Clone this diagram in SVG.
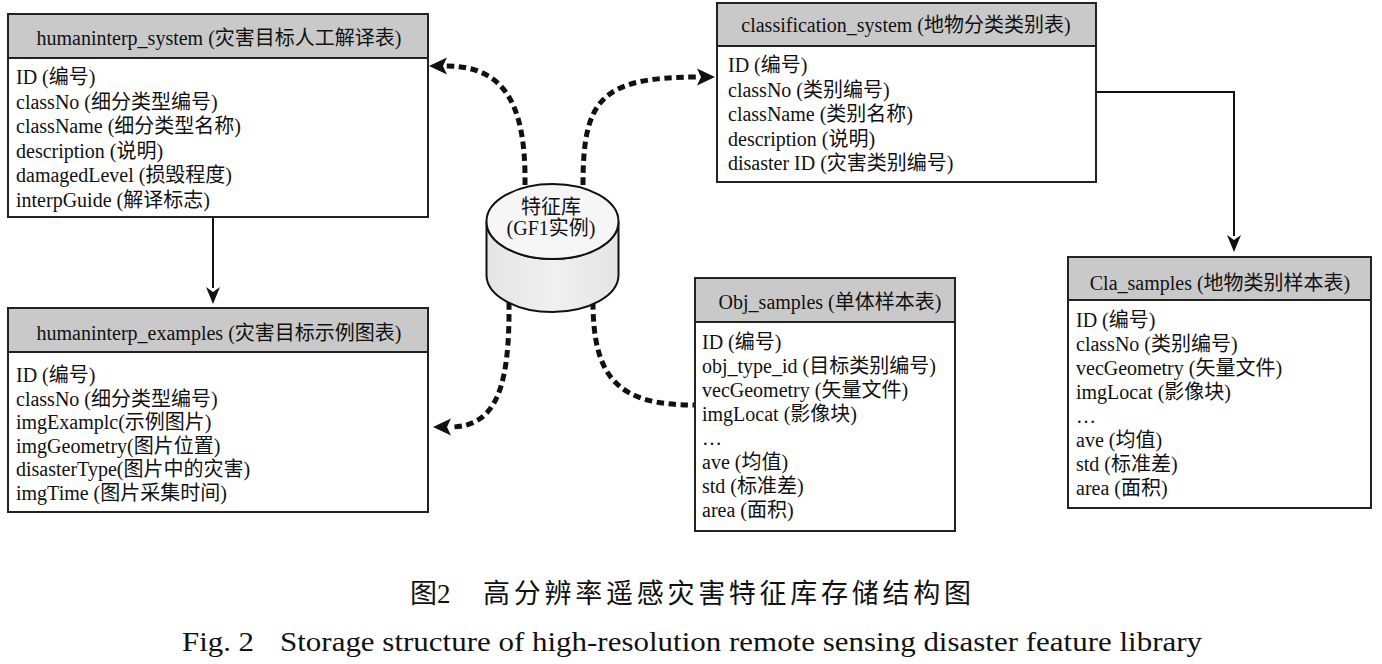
<svg xmlns="http://www.w3.org/2000/svg" width="1382" height="664" viewBox="0 0 1382 664">
<style>
text{font-family:"Liberation Serif","Noto Sans CJK SC",serif;fill:#111;}
.t{font-size:20px;}
.ttl{font-size:20px;text-anchor:middle;}
.box{fill:#fff;stroke:#222;stroke-width:2;}
.hdr{fill:#c9c9c9;stroke:#222;stroke-width:2;}
.solid{fill:none;stroke:#111;stroke-width:2;}
.dash{fill:none;stroke:#111;stroke-width:5;stroke-dasharray:7.5 4.5;}
</style>
<defs>
<marker id="sah" markerUnits="userSpaceOnUse" orient="auto" overflow="visible" refX="0" refY="0" markerWidth="1" markerHeight="1">
<path d="M16,0 L-1,-7 L4,0 L-1,7 Z" fill="#111"/>
</marker>
<marker id="dah" markerUnits="userSpaceOnUse" orient="auto" overflow="visible" refX="0" refY="0" markerWidth="1" markerHeight="1">
<path d="M17,0 L-1,-8.5 L3,0 L-1,8.5 Z" fill="#111"/>
</marker>
<linearGradient id="cyl" x1="0" y1="0" x2="1" y2="0">
<stop offset="0" stop-color="#e4e4e4"/>
<stop offset="0.5" stop-color="#f0f0f0"/>
<stop offset="1" stop-color="#e4e4e4"/>
</linearGradient>
</defs>

<g id="connectors">
<path class="solid" d="M213,217 V288" marker-end="url(#sah)"/>
<path class="solid" d="M1096,92 H1234 V236" marker-end="url(#sah)"/>
<path class="dash" d="M525,185 C526,105 505,66 446,66" marker-end="url(#dah)"/>
<path class="dash" d="M583,185 C583,100 600,77 698,77" marker-end="url(#dah)"/>
<path class="dash" d="M509,302 C510,390 495,427 450,427" marker-end="url(#dah)"/>
<path class="dash" d="M593,302 C593,380 620,405 694,405"/>
</g>

<g id="humaninterp_system">
<rect class="box" x="8" y="14" width="420" height="203"/>
<rect class="hdr" x="8" y="14" width="420" height="44"/>
<text class="ttl" x="219" y="45">humaninterp_system (灾害目标人工解译表)</text>
<text class="t" x="16" y="84">ID (编号)</text>
<text class="t" x="16" y="108.5">classNo (细分类型编号)</text>
<text class="t" x="16" y="133">className (细分类型名称)</text>
<text class="t" x="16" y="157.5">description (说明)</text>
<text class="t" x="16" y="182">damagedLevel (损毁程度)</text>
<text class="t" x="16" y="206.5">interpGuide (解译标志)</text>
</g>

<g id="humaninterp_examples">
<rect class="box" x="8" y="308" width="420" height="204"/>
<rect class="hdr" x="8" y="308" width="420" height="44"/>
<text class="ttl" x="219" y="340">humaninterp_examples (灾害目标示例图表)</text>
<text class="t" x="16" y="382">ID (编号)</text>
<text class="t" x="16" y="405.5">classNo (细分类型编号)</text>
<text class="t" x="16" y="429">imgExamplc(示例图片)</text>
<text class="t" x="16" y="452.5">imgGeometry(图片位置)</text>
<text class="t" x="16" y="476">disasterType(图片中的灾害)</text>
<text class="t" x="16" y="500">imgTime (图片采集时间)</text>
</g>

<g id="feature_db">
<path d="M486.5,221.5 L486.5,275 A66,37 0 0 0 618.5,275 L618.5,221.5 A66,37.5 0 0 1 486.5,221.5 Z" fill="url(#cyl)" stroke="#111" stroke-width="2"/>
<ellipse cx="552.5" cy="221.5" rx="66" ry="37.5" fill="#f6f6f6" stroke="#111" stroke-width="2"/>
<text class="ttl" x="551" y="214">特征库</text>
<text class="ttl" x="551" y="235">(GF1实例)</text>
</g>

<g id="classification_system">
<rect class="box" x="717" y="3" width="379" height="179"/>
<rect class="hdr" x="717" y="3" width="379" height="43"/>
<text class="ttl" x="906" y="32">classification_system (地物分类类别表)</text>
<text class="t" x="728" y="72">ID (编号)</text>
<text class="t" x="728" y="96.5">classNo (类别编号)</text>
<text class="t" x="728" y="121">className (类别名称)</text>
<text class="t" x="728" y="145.5">description (说明)</text>
<text class="t" x="728" y="170">disaster ID (灾害类别编号)</text>
</g>

<g id="Obj_samples">
<rect class="box" x="695" y="278" width="260" height="253"/>
<rect class="hdr" x="695" y="278" width="260" height="44"/>
<text class="ttl" x="830" y="309">Obj_samples (单体样本表)</text>
<text class="t" x="702" y="349">ID (编号)</text>
<text class="t" x="702" y="373">obj_type_id (目标类别编号)</text>
<text class="t" x="702" y="397">vecGeometry (矢量文件)</text>
<text class="t" x="702" y="421">imgLocat (影像块)</text>
<text class="t" x="702" y="445">…</text>
<text class="t" x="702" y="469">ave (均值)</text>
<text class="t" x="702" y="493">std (标准差)</text>
<text class="t" x="702" y="517">area (面积)</text>
</g>

<g id="Cla_samples">
<rect class="box" x="1068" y="257" width="303" height="251"/>
<rect class="hdr" x="1068" y="257" width="303" height="43"/>
<text class="ttl" x="1220" y="290">Cla_samples (地物类别样本表)</text>
<text class="t" x="1076" y="327">ID (编号)</text>
<text class="t" x="1076" y="351">classNo (类别编号)</text>
<text class="t" x="1076" y="375">vecGeometry (矢量文件)</text>
<text class="t" x="1076" y="399">imgLocat (影像块)</text>
<text class="t" x="1076" y="423">…</text>
<text class="t" x="1076" y="447">ave (均值)</text>
<text class="t" x="1076" y="471">std (标准差)</text>
<text class="t" x="1076" y="495">area (面积)</text>
</g>

<g id="caption">
<text style="font-size:27px"><tspan x="410" y="603">图2</tspan><tspan x="483" y="603" textLength="488" lengthAdjust="spacing">高分辨率遥感灾害特征库存储结构图</tspan></text>
<text style="font-size:28px"><tspan x="182" y="651" textLength="72" lengthAdjust="spacingAndGlyphs">Fig. 2</tspan><tspan x="280" y="651" textLength="922" lengthAdjust="spacingAndGlyphs">Storage structure of high-resolution remote sensing disaster feature library</tspan></text>
</g>
</svg>
